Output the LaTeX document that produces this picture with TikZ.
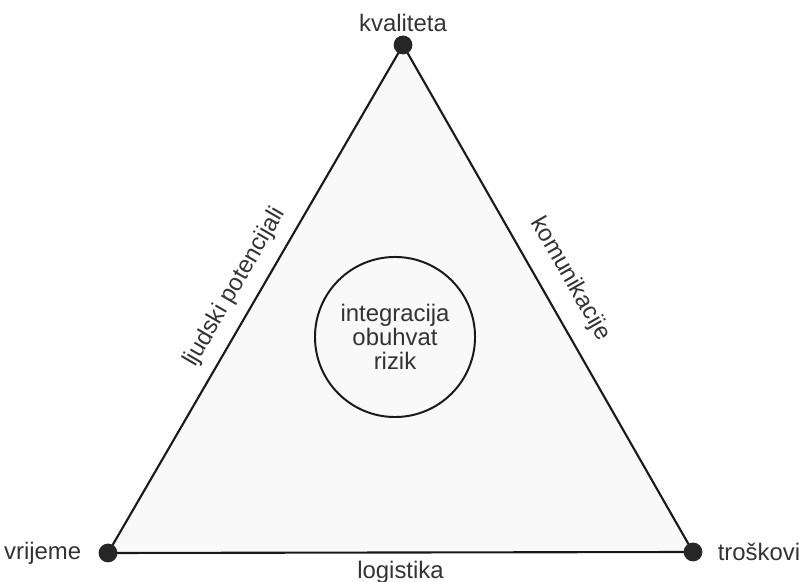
\documentclass[tikz,border=0pt]{standalone}
\usepackage{fontspec}
\setmainfont{Liberation Sans}
\usetikzlibrary{positioning,calc}

\begin{document}
\begin{tikzpicture}[x=0.025cm,y=0.025cm,
        dot/.style={circle,fill=black!85,inner sep=0pt,minimum size=0.47cm},
        lbl/.style={font=\fontsize{17}{17}\selectfont,text=black!80,inner sep=2pt},
        side/.style={line width=1.5pt,draw=black!90}]
    \useasboundingbox (0,0) rectangle (799,582);

    \coordinate (q) at (403,537);
    \coordinate (v) at (108,29);
    \coordinate (t) at (693,30);

    \fill[gray!5] (v) -- (q) -- (t) -- cycle;

    \draw[side] (v) -- node[pos=.5,sloped,above=0.22cm,lbl] (lj) {ljudski potencijali} (q);
    \draw[side] (q) -- node[pos=.49,sloped,above=0.35cm,lbl] (ko) {komunikacije} (t);
    \draw[side] (t) -- node[midway,below=0.12cm,lbl] (lo) {logistika} (v);

    \foreach \n in {q,v,t} {
        \node[dot] (\n d) at (\n) {}; }

    \node[lbl,above=0cm of qd] (kv) {kvaliteta};
    \node[lbl,left=0.35cm of vd] (vr) {vrijeme};
    \node[lbl,right=0.3cm of td] (tr) {troškovi};

    \node[circle,draw=black!90,line width=1.4pt,minimum size=4cm,align=center,lbl] (mid) at (395,245) {integracija\\obuhvat\\rizik};
\end{tikzpicture}
\end{document}
